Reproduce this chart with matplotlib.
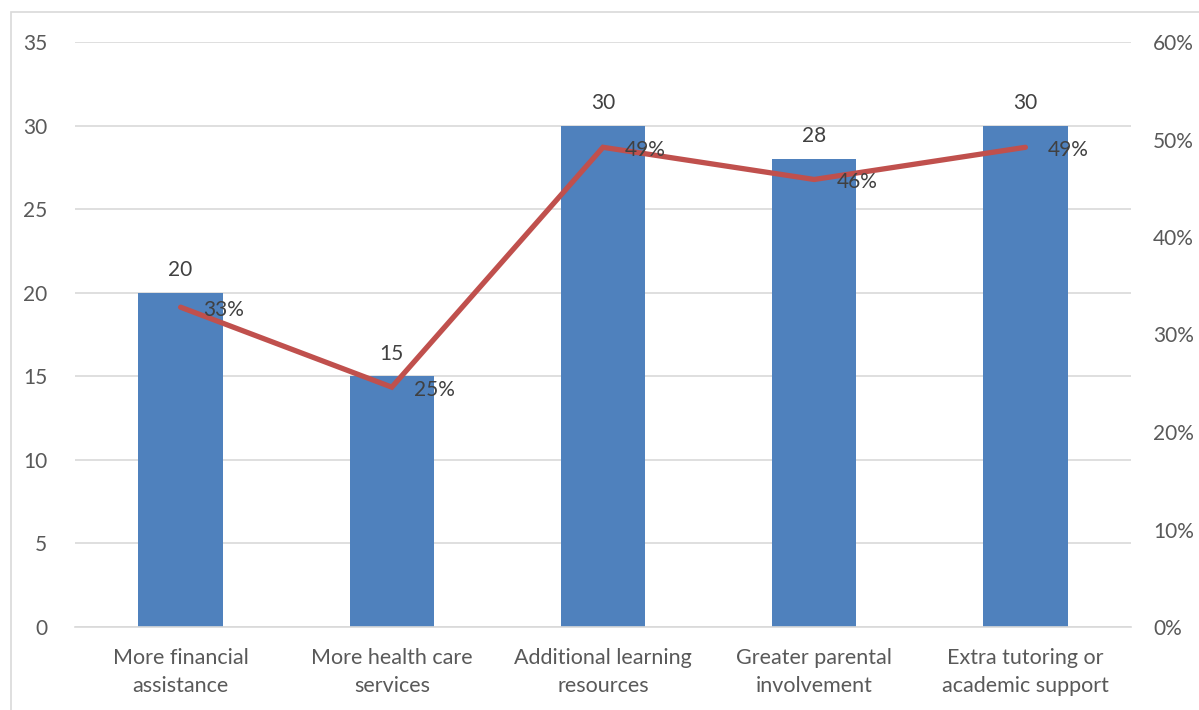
import matplotlib.pyplot as plt
from matplotlib.patches import Rectangle
from matplotlib.ticker import FuncFormatter

plt.rcParams['font.family'] = ['Lato', 'DejaVu Sans']

categories = ["More financial\nassistance", "More health care\nservices",
              "Additional learning\nresources", "Greater parental\ninvolvement",
              "Extra tutoring or\nacademic support"]
counts = [20, 15, 30, 28, 30]
shares = [0.328, 0.246, 0.492, 0.459, 0.492]
share_labels = ["33%", "25%", "49%", "46%", "49%"]

bar_color = "#4F81BD"
line_color = "#C0504D"
grid_color = "#D9D9D9"
tick_color = "#595959"
label_color = "#404040"

fig = plt.figure(figsize=(11.99, 7.10), dpi=100)

# outer chart frame
fig.patches.append(Rectangle((11 / 1199, -0.1), 1.2, 1 - 12 / 710 + 0.1,
                             transform=fig.transFigure, fill=False,
                             edgecolor=grid_color, linewidth=1.2))

ax = fig.add_axes([75 / 1199, 1 - 627 / 710, 1056 / 1199, 585 / 710])
x = range(len(categories))

ax.bar(x, counts, width=0.4, color=bar_color, zorder=2)
ax.set_xlim(-0.5, len(categories) - 0.5)
ax.set_ylim(0, 35)
ax.set_yticks(range(0, 36, 5))
ax.grid(axis='y', color=grid_color, linewidth=1.2, zorder=0)
ax.set_axisbelow(True)
for s in ax.spines.values():
    s.set_visible(False)
ax.spines['bottom'].set_visible(True)
ax.spines['bottom'].set_color(grid_color)
ax.spines['bottom'].set_linewidth(1.2)

ax.set_xticks(list(x))
ax.set_xticklabels(categories, fontsize=15.5, color=tick_color, linespacing=1.5)
ax.tick_params(axis='x', length=0, pad=15)
ax.tick_params(axis='y', length=0, pad=20, labelsize=15, labelcolor=tick_color)

for i, v in enumerate(counts):
    ax.annotate(str(v), (i, v), xytext=(0, 9), textcoords='offset points',
                ha='center', va='bottom', fontsize=15, color=label_color)

ax2 = ax.twinx()
ax2.plot(list(x), shares, color=line_color, linewidth=3.8,
         solid_capstyle='round', solid_joinstyle='miter', zorder=3)
ax2.set_ylim(0, 0.6)
ax2.set_yticks([i / 10 for i in range(7)])
ax2.yaxis.set_major_formatter(FuncFormatter(lambda v, p: f"{v:.0%}"))
ax2.tick_params(axis='y', length=0, pad=16, labelsize=15, labelcolor=tick_color)
for s in ax2.spines.values():
    s.set_visible(False)

for i, (v, t) in enumerate(zip(shares, share_labels)):
    ax2.annotate(t, (i, v), xytext=(16, -2), textcoords='offset points',
                 ha='left', va='center', fontsize=15, color=label_color)

fig.savefig("out.png", dpi=100)
